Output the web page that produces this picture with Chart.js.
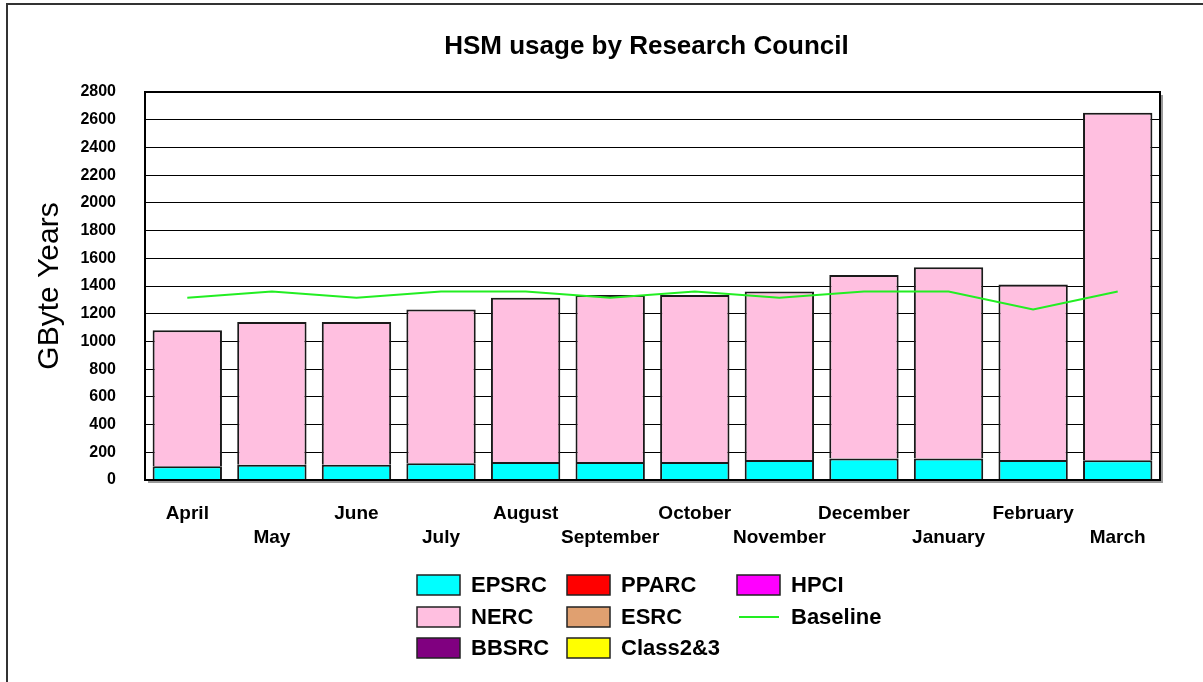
<!DOCTYPE html>
<html>
<head>
<meta charset="utf-8">
<script src="https://cdn.jsdelivr.net/npm/chart.js@4/dist/chart.umd.min.js"></script>
<style>
  html, body { margin: 0; padding: 0; background: #fff; }
  #wrap { width: 1203px; height: 682px; }
</style>
</head>
<body>
<div id="wrap"><canvas id="chartHSM" width="1203" height="682"></canvas></div>
<script>
// data
var months = ['April', 'May', 'June', 'July', 'August', 'September', 'October',
              'November', 'December', 'January', 'February', 'March'];
var epsrc    = [100, 110, 110, 120, 130, 130, 130, 145, 155, 155, 145, 143];
var nerc     = [980, 1030, 1030, 1110, 1185, 1205, 1205, 1215, 1325, 1380, 1265, 2507];
var bbsrc    = [0, 0, 0, 0, 0, 0, 0, 0, 0, 0, 0, 0];
var pparc    = [0, 0, 0, 0, 0, 0, 0, 0, 0, 0, 0, 0];
var esrc     = [0, 0, 0, 0, 0, 0, 0, 0, 0, 0, 0, 0];
var class23  = [0, 0, 0, 0, 0, 0, 0, 0, 0, 0, 0, 0];
var hpci     = [0, 0, 0, 0, 0, 0, 0, 0, 0, 0, 0, 0];
var baseline = [1315, 1360, 1315, 1360, 1360, 1315, 1360, 1315, 1360, 1360, 1230, 1360];
var yMax = 2800, yStep = 200;

// legend order, row by row as in the picture
var legendOrder = ['EPSRC', 'PPARC', 'HPCI', 'NERC', 'ESRC', 'Baseline', 'BBSRC', 'Class2&3'];

var FONT = '"Liberation Sans", Arial, sans-serif';

function barSet(label, data, color) {
    return {
        type: 'bar',
        label: label,
        data: data,
        backgroundColor: color,
        borderColor: '#1a1a1a',
        borderWidth: 2,
        stack: 'rc',
        barPercentage: 0.82,
        categoryPercentage: 1.0,
        order: 2
    };
}

var frame = {
    id: 'frame',
    afterDraw: function (chart) {
        var c = chart.ctx, a = chart.chartArea;
        c.save();
        // outer border
        c.strokeStyle = '#333';
        c.lineWidth = 2;
        c.strokeRect(7, 4, 1220, 700);
        // plot shadow
        c.strokeStyle = '#999';
        c.lineWidth = 2;
        c.beginPath();
        c.moveTo(a.right + 2, a.top + 3);
        c.lineTo(a.right + 2, a.bottom + 2);
        c.lineTo(a.left + 3, a.bottom + 2);
        c.stroke();
        // plot border
        c.strokeStyle = '#000';
        c.lineWidth = 2;
        c.strokeRect(a.left, a.top, a.right - a.left, a.bottom - a.top);

        // title
        c.fillStyle = '#000';
        c.font = 'bold 26px ' + FONT;
        c.textAlign = 'center';
        c.textBaseline = 'middle';
        c.fillText('HSM usage by Research Council', (a.left + a.right) / 2 - 6, 47);

        // y axis title
        c.save();
        c.translate(58, (a.top + a.bottom) / 2);
        c.rotate(-Math.PI / 2);
        c.font = '30px ' + FONT;
        c.textBaseline = 'alphabetic';
        c.fillText('GByte Years', 0, 0);
        c.restore();

        // legend in three columns
        var colX = [417, 567, 737], rowY = [585, 617, 648];
        c.font = 'bold 22px ' + FONT;
        c.textAlign = 'left';
        c.textBaseline = 'middle';
        legendOrder.forEach(function (name, i) {
            var ds = chart.data.datasets.find(function (d) { return d.label === name; });
            var x = colX[i % 3], y = rowY[Math.floor(i / 3)];
            if (ds.type === 'line') {
                c.strokeStyle = ds.borderColor;
                c.lineWidth = 2;
                c.beginPath();
                c.moveTo(x + 2, y);
                c.lineTo(x + 42, y);
                c.stroke();
            } else {
                c.fillStyle = ds.backgroundColor;
                c.fillRect(x, y - 10, 43, 20);
                c.strokeStyle = '#222';
                c.lineWidth = 1.5;
                c.strokeRect(x, y - 10, 43, 20);
            }
            c.fillStyle = '#000';
            c.fillText(name, x + 54, y + 1);
        });
        c.restore();
    }
};

var ctx = document.getElementById('chartHSM');

var hsmChart = new Chart(ctx, {
    data: {
        labels: months,
        datasets: [
            barSet('EPSRC', epsrc, '#00FFFF'),
            barSet('NERC', nerc, '#FFBFE0'),
            barSet('BBSRC', bbsrc, '#800080'),
            barSet('PPARC', pparc, '#FF0000'),
            barSet('ESRC', esrc, '#E0A070'),
            barSet('Class2&3', class23, '#FFFF00'),
            barSet('HPCI', hpci, '#FF00FF'),
            {
                type: 'line',
                label: 'Baseline',
                data: baseline,
                borderColor: '#22EE22',
                borderWidth: 2,
                pointRadius: 0,
                tension: 0,
                fill: false,
                stack: 'base',
                order: 1
            }
        ]
    },
    options: {
        responsive: false,
        animation: false,
        layout: { padding: { top: 92, right: 43, bottom: 0, left: 0 } },
        plugins: {
            legend: { display: false },
            title: { display: false },
            tooltip: { enabled: false }
        },
        scales: {
            x: {
                stacked: true,
                grid: { display: false, drawTicks: false },
                border: { display: true, color: '#000', width: 2 },
                ticks: {
                    autoSkip: false,
                    maxRotation: 0,
                    padding: 21,
                    color: '#000',
                    font: { family: FONT, size: 19, weight: 'bold', lineHeight: 1.3 },
                    callback: function (v, i) {
                        var m = months[i];
                        return i % 2 === 0 ? [m, ''] : ['', m];
                    }
                },
                afterFit: function (s) { s.height = 202; }
            },
            y: {
                stacked: true,
                min: 0,
                max: yMax,
                grid: { color: '#000', lineWidth: 1, drawTicks: false },
                border: { display: true, color: '#000', width: 2 },
                ticks: {
                    stepSize: yStep,
                    padding: 29,
                    color: '#000',
                    font: { family: FONT, size: 16, weight: 'bold' },
                    callback: function (v) { return String(v); }
                },
                afterFit: function (s) { s.width = 145; }
            }
        }
    },
    plugins: [frame]
});
</script>
</body>
</html>
